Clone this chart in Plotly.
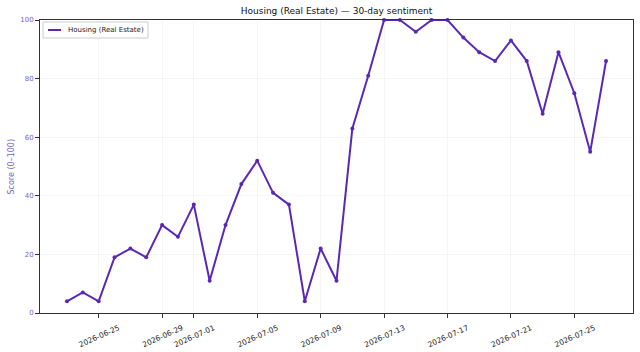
import plotly.graph_objects as go
import pandas as pd

dates = pd.date_range("2026-06-23", "2026-07-27", freq="D").strftime("%Y-%m-%d").tolist()
scores = [4, 7, 4, 19, 22, 19, 30, 26, 37, 11, 30, 44, 52, 41, 37, 4, 22, 11,
          63, 81, 100, 100, 96, 100, 100, 94, 89, 86, 93, 86, 68, 89, 75, 55, 86]
xtick_vals = ["2026-06-25", "2026-06-29", "2026-07-01", "2026-07-05", "2026-07-09",
              "2026-07-13", "2026-07-17", "2026-07-21", "2026-07-25"]
ytick_vals = [0, 20, 40, 60, 80, 100]
series_name = "Housing (Real Estate)"
title = "Housing (Real Estate) — 30-day sentiment"
y_title = "Score (0–100)"

line_color = "#5b27b5"
label_purple = "#7b5fc4"
FONT = "DejaVu Sans"

# plot-area geometry (pixels) used to place the hand-drawn legend / labels
W, H = 640, 352
ML, MR, MT, MB = 40, 7, 20, 39
PW, PH = W - ML - MR, H - MT - MB


def px_x(px):
    return (px - ML) / PW


def px_y(py):
    return (H - MB - py) / PH


fig = go.Figure()
fig.add_trace(go.Scatter(
    x=dates, y=scores, mode="lines+markers", name=series_name,
    line=dict(color=line_color, width=2),
    marker=dict(color=line_color, size=4),
    cliponaxis=False, showlegend=False,
))

# compact legend box like the reference (line-only handle)
fig.add_shape(type="rect", xref="paper", yref="paper",
              x0=px_x(43), x1=px_x(148), y0=px_y(38), y1=px_y(22),
              line=dict(color="#cccccc", width=1), fillcolor="white", layer="above")
fig.add_shape(type="line", xref="paper", yref="paper",
              x0=px_x(48), x1=px_x(61), y0=px_y(30), y1=px_y(30),
              line=dict(color=line_color, width=2), layer="above")
fig.add_annotation(text=series_name, xref="paper", yref="paper",
                   x=px_x(66), y=px_y(30), xanchor="left", yanchor="middle",
                   showarrow=False, font=dict(family=FONT, size=7, color="#222"))
# y-axis title
fig.add_annotation(text=y_title, xref="paper", yref="paper",
                   x=px_x(11), y=0.5, xanchor="center", yanchor="middle",
                   textangle=-90, showarrow=False,
                   font=dict(family=FONT, size=8, color=label_purple))

fig.update_layout(
    width=W, height=H,
    margin=dict(l=ML, r=MR, t=MT, b=MB),
    paper_bgcolor="white", plot_bgcolor="white",
    font=dict(family=FONT, size=7, color="#222"),
    title=dict(text=title, x=0.5, xanchor="center", xref="paper",
               y=1 - 11 / 352, yanchor="middle",
               yref="container", font=dict(family=FONT, size=9, color="#111")),
    showlegend=False,
    xaxis=dict(
        range=["2026-06-21 07:12", "2026-07-28 16:48"],
        tickmode="array", tickvals=xtick_vals, ticktext=xtick_vals,
        tickangle=-24, tickfont=dict(family=FONT, size=7.5, color="#222"),
        ticklabelshift=20, ticklabelstandoff=3, automargin=False,
        showgrid=True, gridcolor="rgba(0,0,0,0.035)", gridwidth=1,
        showline=True, linecolor="#333", linewidth=1, mirror=True,
        ticks="outside", ticklen=4, tickcolor="#333", zeroline=False,
    ),
    yaxis=dict(
        range=[0, 100], tickmode="array", tickvals=ytick_vals,
        tickfont=dict(family=FONT, size=7, color=label_purple),
        automargin=False,
        showgrid=True, gridcolor="rgba(0,0,0,0.035)", gridwidth=1,
        showline=True, linecolor="#333", linewidth=1, mirror=True,
        ticks="outside", ticklen=4, tickcolor="#333", zeroline=False,
    ),
)

fig.write_html("out.html")
